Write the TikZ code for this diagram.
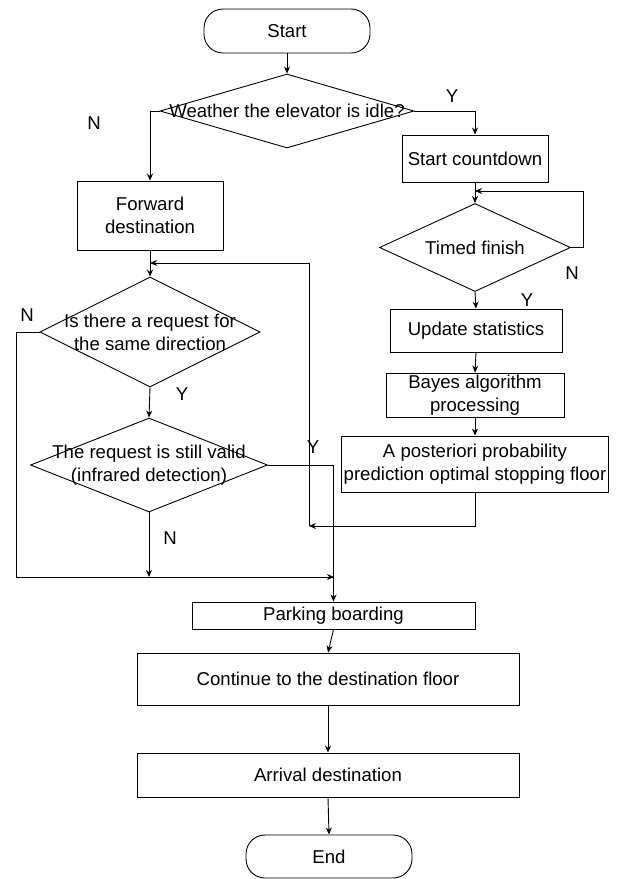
\documentclass[tikz,border=0pt]{standalone}
\usepackage{fontspec}
\setmainfont{Liberation Sans}
\usetikzlibrary{shapes.geometric,arrows.meta}
\begin{document}
\begin{tikzpicture}[x=1pt,y=-1pt,
  every node/.style={font=\fontsize{18.6}{23}\selectfont, inner sep=0pt},
  line/.style={draw=black, line width=0.9pt},
  arr/.style={line, -{Stealth[length=7pt,width=6pt]}},
  box/.style={draw=black, line width=0.9pt, rectangle, align=center},
  term/.style={draw=black, line width=0.9pt, rectangle, rounded corners=19pt},
  dia/.style={draw=black, line width=0.9pt, diamond},
  yn/.style={font=\fontsize{18.6}{23}\selectfont}]
\useasboundingbox (0,0) rectangle (619,879);

% terminals
\node[term, minimum width=166pt, minimum height=44pt] (start) at (287,31) {Start};
\node[term, minimum width=166pt, minimum height=43pt] (end) at (329,856.5) {End};

% idle check
\node[dia, minimum width=254pt, minimum height=74pt,
      label={center:Weather the elevator is idle?}] (d1) at (287,111) {};

% left column
\node[box, minimum width=146pt, minimum height=69pt] (fwd) at (150,215.5) {Forward\\destination};
\node[dia, minimum width=220pt, minimum height=110pt,
      label={[align=center]center:Is there a request for\\the same direction}] (d2) at (150,332) {};
\node[dia, minimum width=237pt, minimum height=94pt,
      label={[align=center]center:The request is still valid\\(infrared detection)}] (d3) at (149,465) {};

% right column
\node[box, minimum width=146pt, minimum height=47pt] (cd) at (475,158.5) {Start countdown};
\node[dia, minimum width=191pt, minimum height=88pt,
      label={center:Timed finish}] (tf) at (475,247.5) {};
\node[box, minimum width=172pt, minimum height=43pt] (up) at (476,330.5) {Update statistics};
\node[box, minimum width=178pt, minimum height=44pt] (bay) at (475,395) {Bayes algorithm\\processing};
\node[box, minimum width=267pt, minimum height=56pt] (post) at (475,464) {A posteriori probability\\prediction optimal stopping floor};

% bottom column
\node[box, minimum width=283pt, minimum height=27pt] (park) at (333.5,615.5) {Parking boarding};
\node[box, minimum width=382pt, minimum height=52pt] (cont) at (328,679) {Continue to the destination floor};
\node[box, minimum width=382pt, minimum height=44pt] (arrv) at (328,775) {Arrival destination};

% branch labels
\node[yn] (n1) at (94,123) {N};
\node[yn] (y1) at (452,96) {Y};
\node[yn] (n2) at (572,273) {N};
\node[yn] (y2) at (527,300) {Y};
\node[yn] (n3) at (27,315) {N};
\node[yn] (y3) at (182,394) {Y};
\node[yn] (y4) at (313,447) {Y};
\node[yn] (n4) at (170,538) {N};

% routing points
\coordinate (tfr) at (583,191);
\coordinate (tfin) at (475,191);
\coordinate (pj) at (309,526);
\coordinate (lt) at (309,263);
\coordinate (lin) at (150,263);
\coordinate (lbot) at (16,577);
\coordinate (mj) at (334,577);
\coordinate (nj) at (149,577);

% connectors
\draw[arr] (start.south) -- (d1.north);
\draw[arr] (d1.west) -| (fwd.north);
\draw[arr] (d1.east) -| (cd.north);
\draw[arr] (fwd.south) -- (d2.north);
\draw[arr] (cd.south) -- (tf.north);
\draw[arr] (tf.east) -| (tfr) -- (tfin);
\draw[arr] (tf.south) -- (up.north);
\draw[arr] (up.south) -- (bay.north);
\draw[arr] (bay.south) -- (post.north);
\draw[arr] (post.south) |- (pj);
\draw[arr] (pj) -- (lt) -- (lin);
\draw[arr] (d2.south) -- (d3.north);
\draw[arr] (d2.west) -| (lbot) -- (mj);
\draw[arr] (d3.south) -- (nj);
\draw[arr] (d3.east) -| (park.north);
\draw[arr] (park.south) -- (cont.north);
\draw[arr] (cont.south) -- (arrv.north);
\draw[arr] (arrv.south) -- (end.north);
\end{tikzpicture}
\end{document}
